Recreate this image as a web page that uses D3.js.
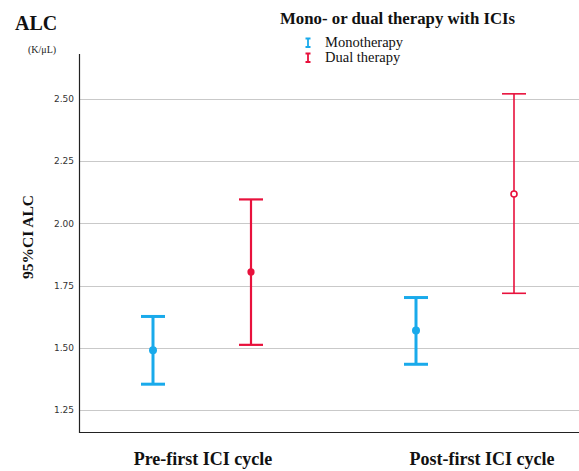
<!DOCTYPE html>
<html>
<head>
<meta charset="utf-8">
<script src="https://cdn.jsdelivr.net/npm/d3@7"></script>
<style>
  html, body { margin: 0; padding: 0; background: #fff; }
  svg { display: block; }
</style>
</head>
<body>
<div id="chart"></div>
<script>
// Categories on the x axis and the two therapy groups
const categories = ["Pre-first ICI cycle", "Post-first ICI cycle"];
const groups = ["Monotherapy", "Dual therapy"];

// Mean ALC and 95% confidence limits (K/µL), one entry per category
const monoMean  = [1.49, 1.57];
const monoLow   = [1.354, 1.434];
const monoHigh  = [1.626, 1.702];
const dualMean  = [1.805, 2.118];
const dualLow   = [1.512, 1.719];
const dualHigh  = [2.096, 2.52];

const yTicks = [1.25, 1.50, 1.75, 2.00, 2.25, 2.50];

const W = 579, H = 471;
const serif = "'Liberation Serif', 'Times New Roman', serif";
const colors = { "Monotherapy": "#19aaeb", "Dual therapy": "#e8113c" };

const svg = d3.select("#chart").append("svg")
  .attr("width", W).attr("height", H);

const plot = { left: 79, right: 579, top: 54, bottom: 432 };

const y = d3.scaleLinear().domain([1.162, 2.68]).range([plot.bottom, plot.top]);
const x = d3.scalePoint().domain(categories).range([202, 465]);
const dodge = d3.scalePoint().domain(groups).range([-49, 49]);

// Horizontal gridlines
svg.append("g").selectAll("line").data(yTicks).join("line")
  .attr("x1", plot.left + 1).attr("x2", plot.right)
  .attr("y1", d => Math.round(y(d)) + 0.5).attr("y2", d => Math.round(y(d)) + 0.5)
  .attr("stroke", "#c9c9c9").attr("stroke-width", 1);

// Y axis with tick labels
const yAxis = svg.append("g")
  .attr("transform", `translate(${plot.left},0)`)
  .call(d3.axisLeft(y).tickValues(yTicks).tickFormat(d3.format(".2f")).tickSize(0).tickPadding(5));
yAxis.select(".domain").remove();
yAxis.selectAll("text")
  .attr("font-family", "'DejaVu Sans', sans-serif")
  .attr("font-size", 9).attr("fill", "#333");

// Axis lines
svg.append("line").attr("x1", plot.left + 0.5).attr("x2", plot.left + 0.5)
  .attr("y1", plot.top).attr("y2", plot.bottom + 1)
  .attr("stroke", "#222").attr("stroke-width", 1.2);
svg.append("line").attr("x1", plot.left).attr("x2", plot.right)
  .attr("y1", plot.bottom + 0.5).attr("y2", plot.bottom + 0.5)
  .attr("stroke", "#222").attr("stroke-width", 1.2);

// Category labels
svg.append("g").selectAll("text").data(categories).join("text")
  .attr("x", (d, i) => x(d) + (i === 1 ? 17 : 1))
  .attr("y", 465)
  .attr("text-anchor", "middle")
  .attr("font-family", serif).attr("font-weight", "bold")
  .attr("font-size", 18).attr("fill", "#111")
  .text(d => d);

// Error bars
const rows = [];
categories.forEach((c, i) => {
  rows.push({ cat: c, group: "Monotherapy", mean: monoMean[i], lo: monoLow[i], hi: monoHigh[i], sw: 3, r: 4, hollow: false });
  rows.push({ cat: c, group: "Dual therapy", mean: dualMean[i], lo: dualLow[i], hi: dualHigh[i], sw: i === 0 ? 2.2 : 1.6, r: i === 0 ? 3.6 : 3, hollow: i === 1 });
});

const capHalf = 12;
const bars = svg.append("g").selectAll("g").data(rows).join("g")
  .attr("transform", d => `translate(${x(d.cat) + dodge(d.group)},0)`)
  .attr("stroke", d => colors[d.group]);

bars.append("line")
  .attr("x1", 0).attr("x2", 0)
  .attr("y1", d => y(d.lo)).attr("y2", d => y(d.hi))
  .attr("stroke-width", d => d.sw);
bars.append("line")
  .attr("x1", -capHalf).attr("x2", capHalf)
  .attr("y1", d => y(d.lo)).attr("y2", d => y(d.lo))
  .attr("stroke-width", d => d.sw);
bars.append("line")
  .attr("x1", -capHalf).attr("x2", capHalf)
  .attr("y1", d => y(d.hi)).attr("y2", d => y(d.hi))
  .attr("stroke-width", d => d.sw);
bars.append("circle")
  .attr("cx", 0).attr("cy", d => y(d.mean))
  .attr("r", d => d.r)
  .attr("fill", d => d.hollow ? "#fff" : colors[d.group])
  .attr("stroke-width", d => d.hollow ? 1.6 : 0);

// Titles
svg.append("text").attr("x", 15).attr("y", 30)
  .attr("font-family", serif).attr("font-weight", "bold")
  .attr("font-size", 20).attr("fill", "#111").text("ALC");
svg.append("text").attr("x", 28).attr("y", 53)
  .attr("font-family", serif).attr("font-size", 10).attr("fill", "#222").text("(K/μL)");
svg.append("text")
  .attr("transform", "translate(33,237) rotate(-90)")
  .attr("text-anchor", "middle")
  .attr("font-family", serif).attr("font-weight", "bold")
  .attr("font-size", 15.5).attr("fill", "#111").text("95%CI ALC");

// Legend
svg.append("text").attr("x", 280).attr("y", 24)
  .attr("font-family", serif).attr("font-weight", "bold")
  .attr("font-size", 16.8).attr("fill", "#111").text("Mono- or dual therapy with ICIs");

const leg = svg.append("g").selectAll("g").data(groups).join("g")
  .attr("transform", (d, i) => `translate(308,${38 + i * 15})`);
leg.append("path")
  .attr("d", "M-2.5,0.5H2.5M0,0.5V9M-2.5,9H2.5")
  .attr("fill", "none")
  .attr("stroke", d => colors[d]).attr("stroke-width", 1.8);
leg.append("text").attr("x", 17).attr("y", 9)
  .attr("font-family", serif).attr("font-size", 14.5).attr("fill", "#111")
  .text(d => d);
</script>
</body>
</html>
